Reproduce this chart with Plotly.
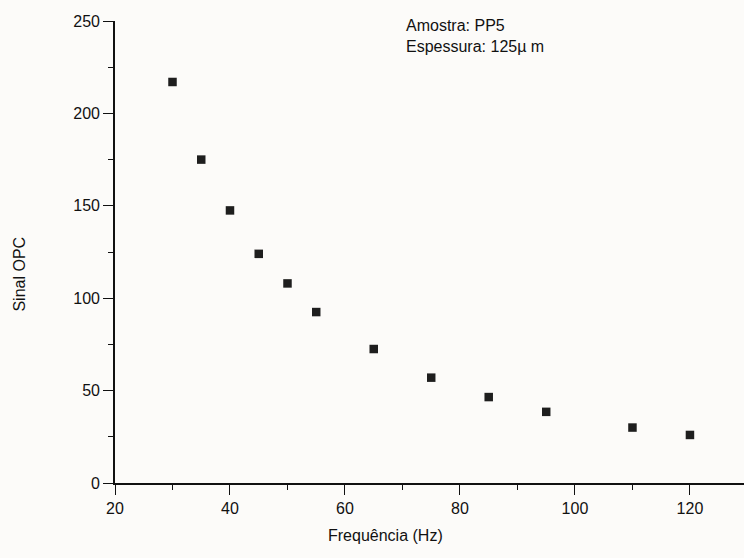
import plotly.graph_objects as go

freq = [30, 35, 40, 45, 50, 55, 65, 75, 85, 95, 110, 120]
sinal = [217, 175, 147.5, 124, 108, 92.5, 72.5, 57, 46.5, 38.5, 30, 26]

x_ticks = [20, 40, 60, 80, 100, 120]
y_ticks = [0, 50, 100, 150, 200, 250]

FONT = "Liberation Sans, Arial, sans-serif"

fig = go.Figure()
fig.add_trace(go.Scatter(
    x=freq, y=sinal, mode="markers",
    marker=dict(symbol="square", size=8.5, color="#1e1e1e", line=dict(width=0)),
    showlegend=False, cliponaxis=False,
))

axis_common = dict(
    showgrid=False, zeroline=False, showline=True, linecolor="#111", linewidth=1.6,
    ticks="outside", ticklen=10, tickwidth=1.4, tickcolor="#111",
    tickfont=dict(family=FONT, size=16, color="#111"),
)

fig.update_xaxes(
    range=[20, 129.4], tickvals=x_ticks, ticktext=[str(v) for v in x_ticks],
    minor=dict(ticks="outside", ticklen=5, tickwidth=1.2, tickcolor="#111", dtick=10, tick0=20),
    **axis_common,
)
fig.update_yaxes(
    range=[0, 250], tickvals=y_ticks, ticktext=[str(v) for v in y_ticks],
    minor=dict(ticks="outside", ticklen=5, tickwidth=1.2, tickcolor="#111", dtick=25, tick0=0),
    **axis_common,
)

fig.add_annotation(
    text="Frequência (Hz)", xref="paper", yref="paper", x=0.43, y=-0.113,
    xanchor="center", yanchor="middle", showarrow=False,
    font=dict(family=FONT, size=16, color="#111"),
)
fig.add_annotation(
    text="Sinal OPC", xref="paper", x=-0.152, yref="y", y=113,
    textangle=-90, xanchor="center", yanchor="middle", showarrow=False,
    font=dict(family=FONT, size=16, color="#111"),
)
fig.add_annotation(
    text="Amostra: PP5<br>Espessura: 125\u00b5 m", xref="x", yref="y",
    x=70.2, y=250, xanchor="left", yanchor="top", align="left", showarrow=False,
    yshift=6, font=dict(family=FONT, size=16, color="#111"),
)

fig.update_layout(
    width=744, height=558,
    margin=dict(l=115, r=0, t=20.5, b=75),
    paper_bgcolor="#fcfbf9", plot_bgcolor="rgba(0,0,0,0)",
)

fig.write_html("out.html")
